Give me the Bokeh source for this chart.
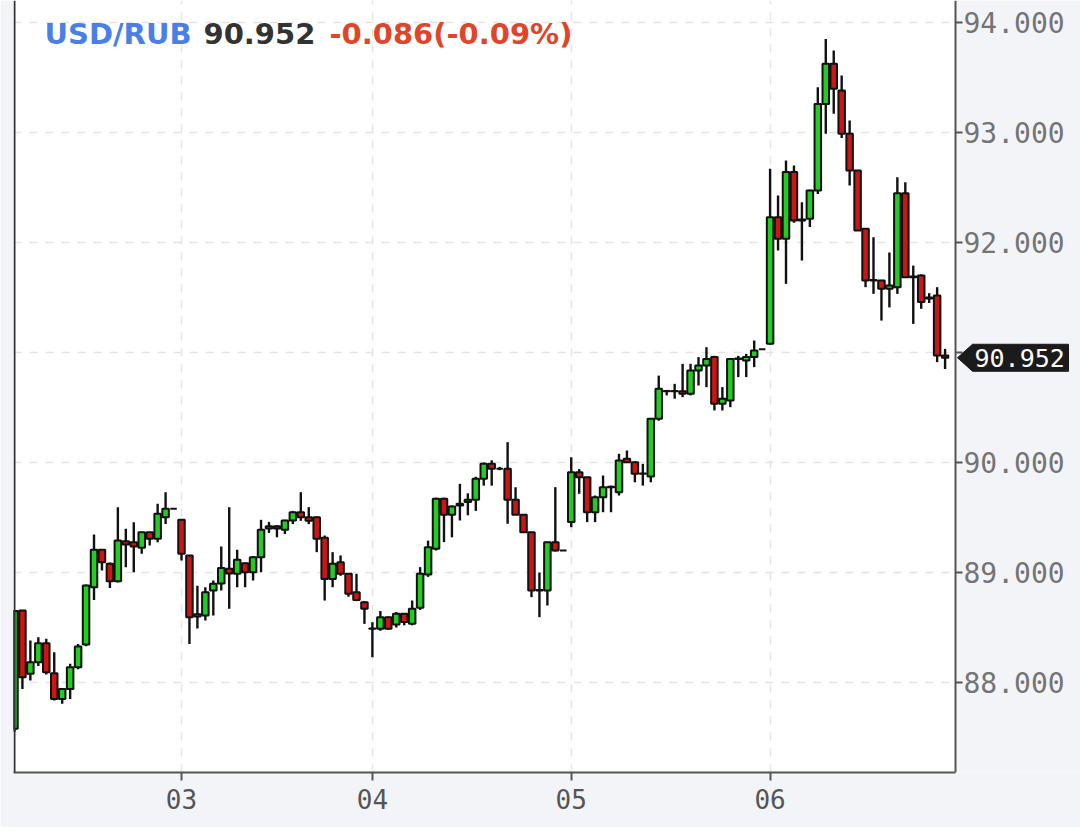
from bokeh.plotting import figure
from bokeh.models import (ColumnDataSource, FixedTicker, Range1d, Label, Span)
from bokeh.core.properties import value
from bokeh.embed import file_html
from bokeh.resources import INLINE

# ---------------- data (hourly candles, index 0 = first candle of day 03) ----------------
first_index = -21
opens = [87.58, 88.654, 88.079, 88.185, 88.357, 88.085, 87.851, 87.942, 88.139, 88.345,
         88.866, 89.206, 89.079, 88.921, 89.285, 89.276, 89.224, 89.366, 89.306, 89.503,
         89.579,
         89.479, 89.155, 88.60, 88.61, 88.836, 88.90, 89.033, 88.988, 89.085, 89.003,
         89.139, 89.40, 89.42, 89.388, 89.472, 89.548, 89.503, 89.503, 89.315, 88.942,
         89.094, 88.988, 88.821, 88.73,
         88.488, 88.488, 88.594, 88.527, 88.624, 88.534, 88.679, 88.982, 89.215, 89.67,
         89.524, 89.61, 89.64, 89.661, 89.852, 89.988, 89.943, 89.943, 89.661, 89.524,
         89.367, 88.836, 88.836, 89.276, 89.20,
         89.458, 89.912, 89.867, 89.548, 89.685, 89.776, 89.73, 90.033, 90.003, 89.897,
         89.873, 90.397, 90.648, 90.648, 90.648, 90.624, 90.836, 90.882, 90.958, 90.533,
         90.564, 90.942, 90.927, 90.958, 91.03,
         91.079, 92.23, 92.033, 92.64, 92.20, 92.215, 92.473, 93.26, 93.624, 93.382,
         92.988, 92.655, 92.124, 91.655, 91.655, 91.58, 91.594, 92.448, 91.685, 91.70,
         91.49, 91.518, 90.973]
highs = [88.66, 88.66, 88.382, 88.412, 88.397, 88.276, 87.95, 88.17, 88.351, 88.89,
         89.345, 89.21, 89.09, 89.594, 89.397, 89.457, 89.37, 89.37, 89.624, 89.73,
         89.58,
         89.48, 89.16, 88.88, 88.866, 88.927, 89.236, 89.594, 89.206, 89.09, 89.15,
         89.479, 89.46, 89.43, 89.48, 89.56, 89.73, 89.594, 89.51, 89.336, 89.185,
         89.155, 88.99, 88.988, 88.74,
         88.548, 88.65, 88.60, 88.64, 88.63, 88.745, 89.049, 89.29, 89.68, 89.68,
         89.61, 89.806, 89.72, 89.87, 90.00, 90.02, 89.96, 90.185, 89.775, 89.53,
         89.37, 89.00, 89.28, 89.776, 89.20,
         90.048, 89.94, 89.87, 89.70, 89.882, 89.79, 90.079, 90.109, 90.01, 89.988,
         90.40, 90.79, 90.66, 90.715, 90.897, 90.897, 90.958, 91.048, 90.97, 90.685,
         90.95, 90.97, 90.988, 91.109, 91.03,
         92.67, 92.427, 92.745, 92.70, 92.367, 92.48, 93.412, 93.85, 93.745, 93.518,
         93.109, 92.66, 92.13, 92.048, 91.66, 91.91, 92.594, 92.548, 91.79, 91.71,
         91.54, 91.594, 91.033]
lows = [87.55, 87.942, 88.018, 88.15, 88.073, 87.836, 87.806, 87.851, 88.12, 88.33,
        88.751, 89.018, 88.86, 88.91, 89.048, 89.003, 89.17, 89.245, 89.276, 89.442,
        89.578,
        89.109, 88.351, 88.49, 88.563, 88.61, 88.836, 88.67, 88.866, 88.866, 88.927,
        89.003, 89.36, 89.32, 89.35, 89.44, 89.47, 89.44, 89.185, 88.745, 88.866,
        88.97, 88.78, 88.74, 88.533,
        88.23, 88.47, 88.48, 88.50, 88.52, 88.52, 88.66, 88.96, 89.20, 89.276,
        89.32, 89.473, 89.52, 89.56, 89.79, 89.79, 89.93, 89.443, 89.60, 89.36,
        88.776, 88.594, 88.70, 89.19, 89.20,
        89.412, 89.715, 89.458, 89.458, 89.548, 89.548, 89.70, 90.00, 89.82, 89.79,
        89.82, 90.38, 90.61, 90.58, 90.594, 90.61, 90.70, 90.685, 90.473, 90.473,
        90.503, 90.776, 90.776, 90.867, 91.03,
        91.07, 91.927, 91.624, 92.18, 91.836, 92.14, 92.44, 92.988, 93.17, 92.95,
        92.518, 92.11, 91.594, 91.533, 91.29, 91.41, 91.533, 91.68, 91.26, 91.397,
        91.45, 90.912, 90.85]
closes = [88.65, 88.048, 88.185, 88.357, 88.094, 87.851, 87.942, 88.139, 88.327, 88.882,
          89.206, 89.094, 88.921, 89.291, 89.254, 89.236, 89.366, 89.306, 89.533, 89.579,
          89.579,
          89.17, 88.594, 88.62, 88.821, 88.897, 89.042, 88.99, 89.115, 89.003, 89.139,
          89.388, 89.42, 89.40, 89.472, 89.548, 89.503, 89.47, 89.306, 88.942, 89.079,
          88.988, 88.806, 88.751, 88.67,
          88.49, 88.594, 88.488, 88.624, 88.549, 88.67, 88.988, 89.23, 89.67, 89.524,
          89.60, 89.624, 89.661, 89.852, 89.988, 89.943, 89.943, 89.661, 89.524, 89.367,
          88.836, 88.84, 89.276, 89.20, 89.20,
          89.912, 89.867, 89.548, 89.685, 89.776, 89.78, 90.018, 90.003, 89.897, 89.90,
          90.397, 90.67, 90.65, 90.65, 90.624, 90.836, 90.882, 90.942, 90.533, 90.579,
          90.942, 90.945, 90.958, 91.018, 91.03,
          92.23, 92.033, 92.64, 92.20, 92.21, 92.473, 93.26, 93.624, 93.397, 92.988,
          92.655, 92.11, 91.655, 91.66, 91.58, 91.61, 92.448, 91.685, 91.69, 91.458,
          91.50, 90.973, 90.952]

day_labels = ["03", "04", "05", "06"]
day_start = [0, 24, 49, 74]
price_ticks = [88, 89, 90, 91, 92, 93, 94]
symbol = "USD/RUB"
last_price = 90.952
change = -0.086
change_pct = -0.09

# ---------------- geometry helpers ----------------
PX0, PX_STEP = 181.0, 7.954          # page x of index 0, px per candle
PY_REF, PY_STEP = 22.0, 110.0        # page y of 94.000, px per 1.000
FRAME_L, PLOT_R, CANVAS_R, FRAME_T, FRAME_B = 13, 955, 1080, 0, 772
BG = "#f3f4f7"
AXIS_C = "#555555"


def px_to_x(px):
    return (px - PX0) / PX_STEP


def py_to_y(py):
    return 94.0 - (py - PY_REF) / PY_STEP


xs = list(range(first_index, first_index + len(opens)))
tops = [max(o, c) for o, c in zip(opens, closes)]
bottoms = [min(o, c) for o, c in zip(opens, closes)]
colors = ["#22cc22" if c >= o else "#cc1616" for o, c in zip(opens, closes)]

src = ColumnDataSource(dict(x=xs, open=opens, high=highs, low=lows, close=closes,
                            top=tops, bottom=bottoms, color=colors))

y_lo, y_hi = py_to_y(FRAME_B), py_to_y(FRAME_T)
p = figure(frame_width=CANVAS_R - FRAME_L, frame_height=FRAME_B - FRAME_T,
           x_range=Range1d(px_to_x(FRAME_L), px_to_x(CANVAS_R)),
           y_range=Range1d(y_lo, y_hi),
           output_backend="svg", toolbar_location=None,
           x_axis_location="below", y_axis_location=None,
           min_border_left=FRAME_L, min_border_top=FRAME_T,
           min_border_right=0, min_border_bottom=55)

p.background_fill_color = "white"
p.border_fill_color = BG
p.outline_line_color = None

# bottom axis
xa = p.xaxis[0]
xa.ticker = FixedTicker(ticks=day_start)
xa.bounds = (px_to_x(FRAME_L), px_to_x(PLOT_R))
xa.major_label_overrides = {d: l for d, l in zip(day_start, day_labels)}
xa.major_label_text_font = "DejaVu Sans Mono"
xa.major_label_text_font_size = "26px"
xa.major_label_text_color = AXIS_C
xa.major_tick_out = 8
xa.major_tick_in = 0
xa.major_tick_line_width = 2
xa.major_tick_line_color = AXIS_C
xa.minor_tick_line_color = None
xa.axis_line_width = 2
xa.axis_line_color = AXIS_C
xa.major_label_standoff = 8

p.xgrid[0].ticker = FixedTicker(ticks=day_start)
p.ygrid[0].ticker = FixedTicker(ticks=price_ticks)
for g in (p.xgrid[0], p.ygrid[0]):
    g.grid_line_color = "#e4e4e4"
    g.grid_line_width = 1.5
    g.grid_line_dash = "8 8"

# left frame border
p.add_layout(Span(location=px_to_x(FRAME_L + 1), dimension="height",
                  line_color="#333333", line_width=2))

# candles
p.segment(x0="x", y0="high", x1="x", y1="low", source=src,
          line_color="#111111", line_width=2.4)
p.vbar(x="x", width=0.82, top="top", bottom="bottom", source=src,
       fill_color="color", line_color="#111111", line_width=2)

# right-hand price scale (drawn inside the extended frame)
xr0 = px_to_x(PLOT_R)
p.quad(left=xr0, right=px_to_x(CANVAS_R + 5), bottom=y_lo - 1, top=y_hi + 1,
       fill_color=BG, line_color=None)
p.segment(x0=[xr0], y0=[y_lo], x1=[xr0], y1=[y_hi], line_color=AXIS_C, line_width=2)
p.segment(x0=[xr0] * len(price_ticks), y0=price_ticks,
          x1=[px_to_x(PLOT_R + 7)] * len(price_ticks), y1=price_ticks,
          line_color=AXIS_C, line_width=2)
shown = [t for t in price_ticks if abs(t - last_price) > 0.2]
p.text(x=[px_to_x(PLOT_R + 8)] * len(shown), y=shown, text=[f"{t:.3f}" for t in shown],
       text_font=value("DejaVu Sans Mono"), text_font_size="28px",
       text_color="#747474", text_baseline="middle", text_align="left")

# last price marker
half = 13.5 / PY_STEP
mx = [px_to_x(957), px_to_x(972), px_to_x(1068), px_to_x(1068), px_to_x(972)]
my = [last_price, last_price + half, last_price + half, last_price - half, last_price - half]
p.patch(x=mx, y=my, fill_color="#1b1b1b", line_color="#1b1b1b", line_width=1)
p.text(x=[px_to_x(974)], y=[last_price], text=[f"{last_price:.3f}"],
       text_font=value("DejaVu Sans Mono"), text_font_size="25px",
       text_color="white", text_baseline="middle", text_align="left")

# header text
ty = py_to_y(33)
for px, txt, col in [(44, symbol, "#4a7fe6"),
                     (203, f"{last_price:.3f}", "#333333"),
                     (329, f"{change:.3f}({change_pct:.2f}%)", "#e0452a")]:
    p.add_layout(Label(x=px_to_x(px), y=ty, text=txt, text_font="DejaVu Sans",
                       text_font_style="bold", text_font_size="29px",
                       text_color=col, text_baseline="alphabetic", text_align="left"))

open("out.html", "w").write(file_html(p, INLINE))
